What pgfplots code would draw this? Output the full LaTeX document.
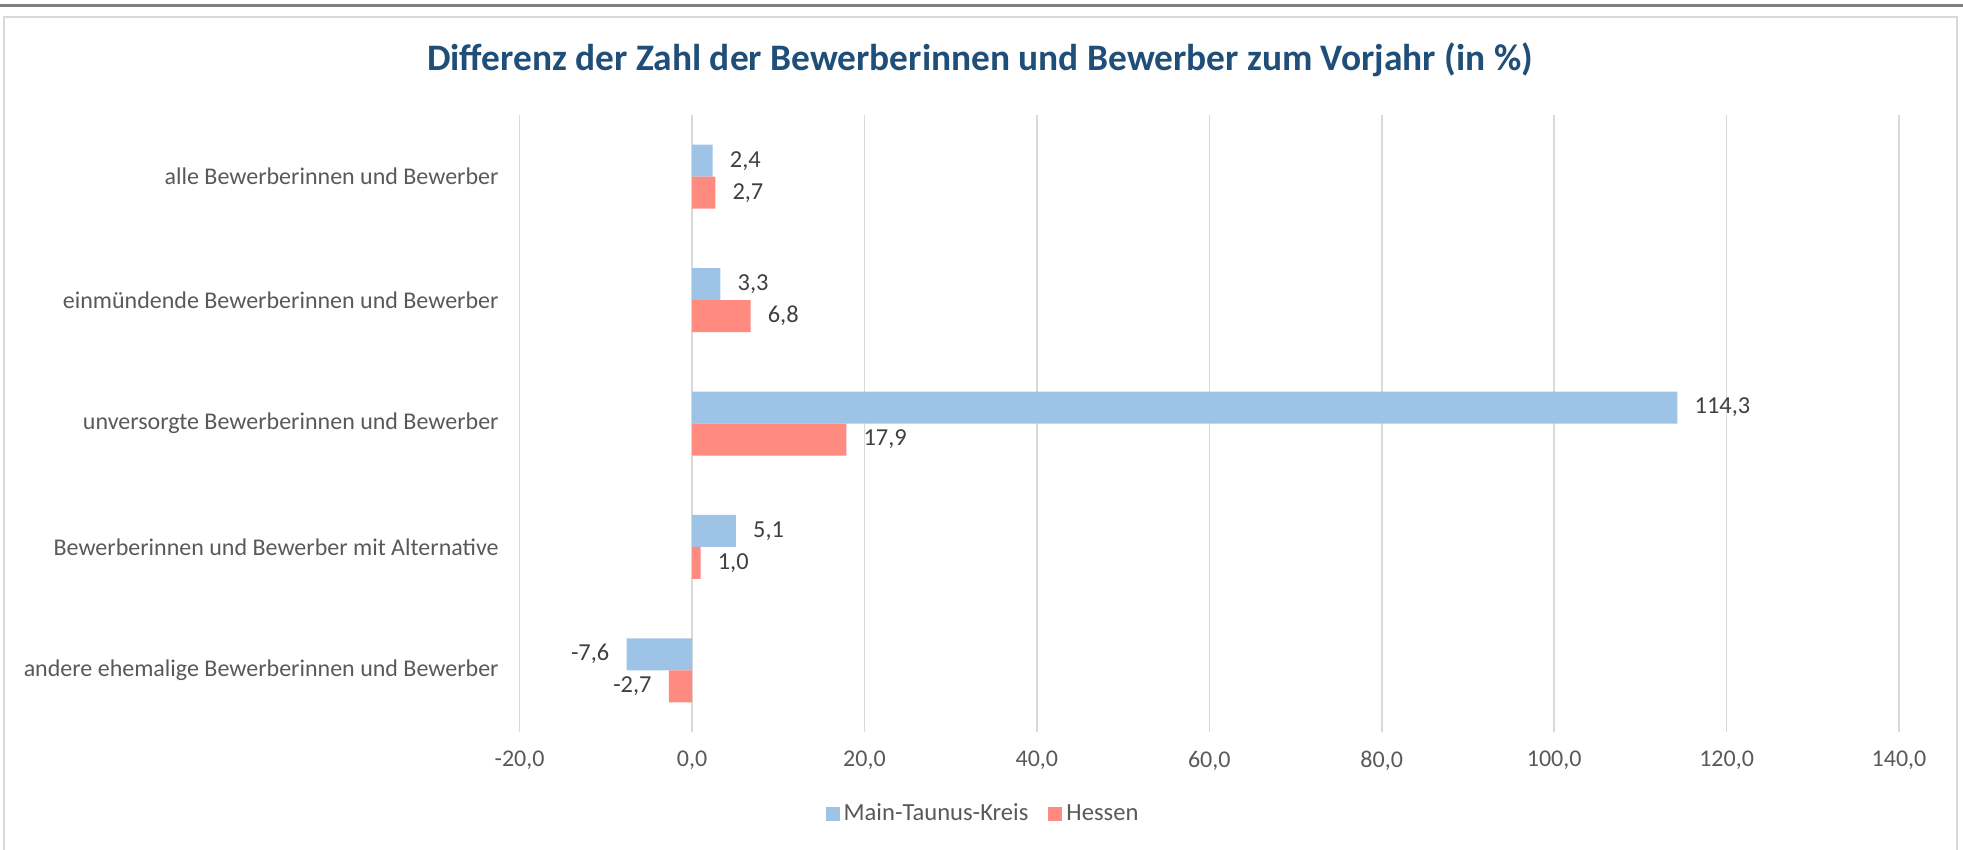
\documentclass[border=0pt]{standalone}
\usepackage{fontspec}
\setmainfont{Carlito}
\usepackage{pgfplots}
\pgfplotsset{compat=1.18}
\definecolor{mtk}{HTML}{9DC3E6}
\definecolor{hes}{HTML}{FF8B80}
\definecolor{txt}{HTML}{595959}
\definecolor{dtxt}{HTML}{404040}
\definecolor{ttl}{HTML}{1F4E79}
\definecolor{grd}{HTML}{D9D9D9}
\begin{document}
\begin{tikzpicture}
\path[use as bounding box] (0,0) rectangle (981.5pt,-425pt);
\draw[line width=1.5pt, color=black!50] (0pt,-3pt) -- (981.5pt,-3pt);
\draw[line width=0.6pt, color=grd] (2pt,-430pt) -- (2pt,-8.5pt) -- (978.5pt,-8.5pt) -- (978.5pt,-430pt);
\node[font=\fontsize{18.7}{22}\selectfont\bfseries, text=ttl] at (490pt,-30pt) {Differenz der Zahl der Bewerberinnen und Bewerber zum Vorjahr (in \%)};
\begin{axis}[
  at={(259.8pt,-366pt)}, anchor=south west,
  width=689.7pt, height=308.5pt, scale only axis,
  xbar, bar width=16pt,
  xmin=-20, xmax=140, ymin=0.5, ymax=5.5, y dir=reverse,
  xtick={-20,0,...,140}, ytick={1,2,3,4,5},
  yticklabels={alle Bewerberinnen und Bewerber, einmündende Bewerberinnen und Bewerber, unversorgte Bewerberinnen und Bewerber, Bewerberinnen und Bewerber mit Alternative, andere ehemalige Bewerberinnen und Bewerber},
  xmajorgrids, grid style={grd, line width=0.8pt},
  axis line style={draw=none}, major tick length=0pt,
  tick label style={font=\fontsize{12}{14}\selectfont, text=txt},
  xticklabel style={yshift=-6pt},
  yticklabel style={xshift=-7pt},
  /pgf/number format/.cd, fixed, fixed zerofill, precision=1, use comma, assume math mode=true,
  /pgfplots/.cd,
  nodes near coords, nodes near coords align=horizontal,
  every node near coord/.append style={font=\fontsize{12.2}{14}\selectfont, text=dtxt, inner xsep=8.4pt},
  legend style={at={(0.3367,-0.1329)}, anchor=center, draw=none, legend columns=2, font=\fontsize{12.3}{14}\selectfont, text=txt, /tikz/every even column/.append style={column sep=8pt}},
  legend image code/.code={\fill[#1] (0pt,-3.5pt) rectangle (7pt,3.5pt);},
]
\addplot[fill=mtk, draw=none, bar shift=8pt] coordinates {(2.4,1) (3.3,2) (114.3,3) (5.1,4) (-7.6,5)};
\addplot[fill=hes, draw=none, bar shift=-8pt] coordinates {(2.7,1) (6.8,2) (17.9,3) (1.0,4) (-2.7,5)};
\legend{Main-Taunus-Kreis, Hessen}
\end{axis}
\end{tikzpicture}
\end{document}
